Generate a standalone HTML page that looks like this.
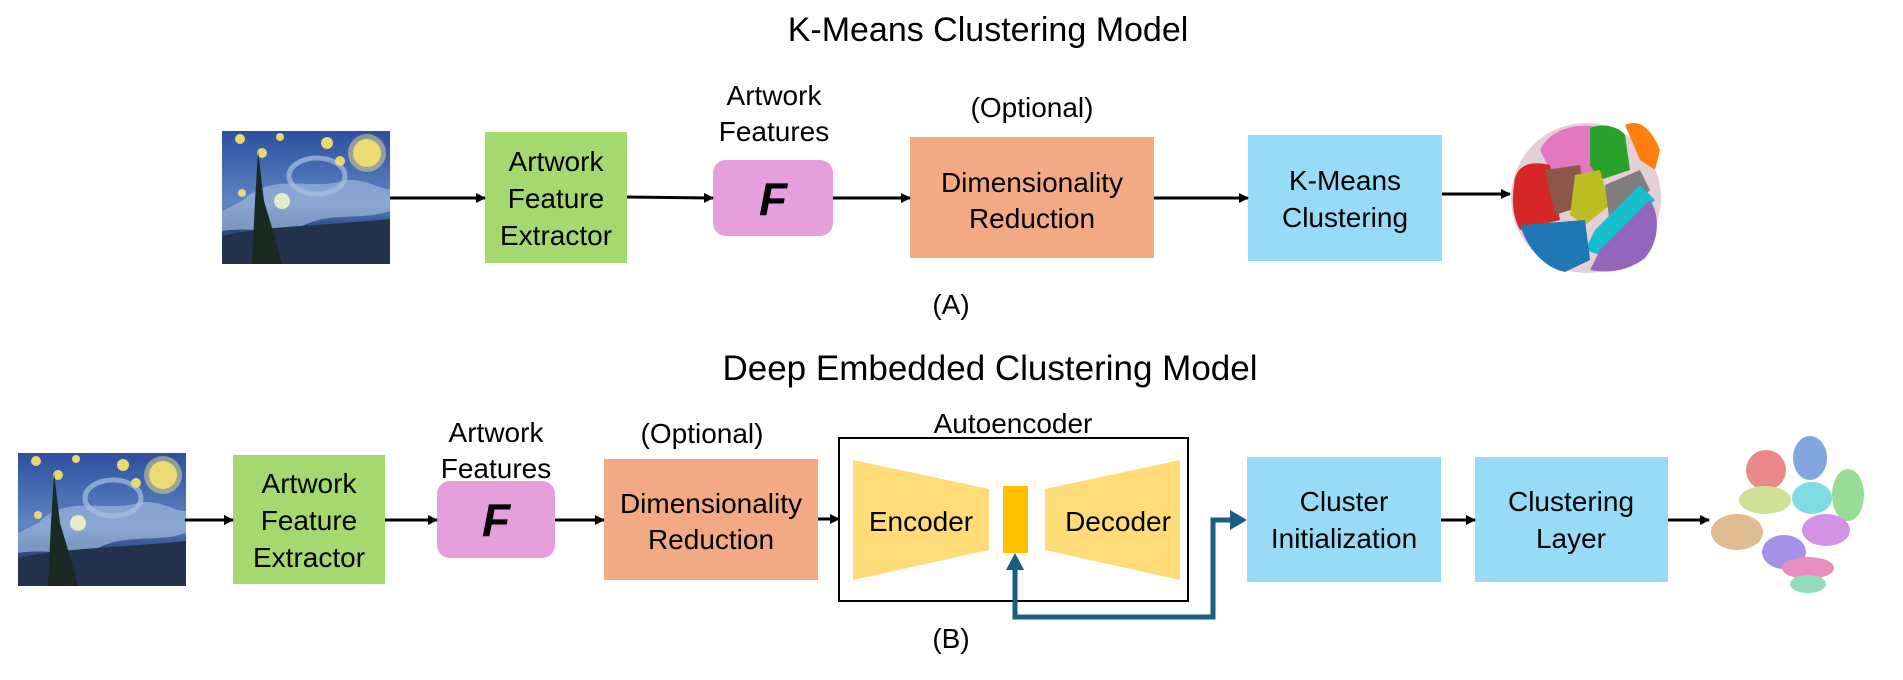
<!DOCTYPE html>
<html><head><meta charset="utf-8"><style>
html,body{margin:0;padding:0;background:#fff;}
svg{display:block;}
text{font-family:"Liberation Sans",sans-serif;fill:#000;}
</style></head><body>
<svg width="1903" height="680" viewBox="0 0 1903 680" xmlns="http://www.w3.org/2000/svg">
<defs>
<marker id="ah" markerWidth="10" markerHeight="10" refX="9" refY="5" orient="auto" markerUnits="userSpaceOnUse"><path d="M0,0 L10,5 L0,10 z" fill="#000"/></marker>
<linearGradient id="sky" x1="0" y1="0" x2="0" y2="1"><stop offset="0" stop-color="#2d4f9e"/><stop offset="0.55" stop-color="#5f86c4"/><stop offset="0.7" stop-color="#33518f"/><stop offset="1" stop-color="#1e2e4a"/></linearGradient>
<g id="night">
<rect x="0" y="0" width="168" height="133" fill="url(#sky)"/>
<path d="M20,70 C50,40 90,60 120,50 C140,45 160,60 168,58 L168,80 C140,90 110,80 80,95 C50,105 30,95 0,100 L0,80 Z" fill="#9bb6d8" opacity="0.7"/>
<ellipse cx="95" cy="45" rx="28" ry="18" fill="none" stroke="#a8c0e0" stroke-width="5" opacity="0.7"/>
<path d="M0,105 C40,95 100,95 168,88 L168,133 L0,133 Z" fill="#22324d"/>
<circle cx="145" cy="22" r="14" fill="#e8d25a"/><circle cx="145" cy="22" r="19" fill="#f0e28a" opacity="0.5"/>
<circle cx="18" cy="8" r="5" fill="#e8d870"/><circle cx="40" cy="22" r="5" fill="#e8d870"/><circle cx="58" cy="6" r="4" fill="#e8d870"/><circle cx="105" cy="12" r="6" fill="#e8d870"/><circle cx="60" cy="70" r="8" fill="#e8ecc8"/><circle cx="20" cy="62" r="4" fill="#e8d870"/><circle cx="118" cy="30" r="5" fill="#e8d870"/>
<path d="M30,133 L33,70 L36,20 L42,70 L48,90 L54,110 L60,133 Z" fill="#1a2a22"/>
</g>
</defs>

<!-- Titles -->
<text x="988" y="41" font-size="34" text-anchor="middle">K-Means Clustering Model</text>
<text x="951" y="314" font-size="28" text-anchor="middle">(A)</text>
<text x="990" y="380" font-size="35" text-anchor="middle">Deep Embedded Clustering Model</text>
<text x="951" y="648" font-size="28" text-anchor="middle">(B)</text>

<!-- Row A -->
<use href="#night" x="222" y="131"/>
<rect x="485" y="132" width="142" height="131" fill="#a5d96f"/>
<text font-size="28" text-anchor="middle"><tspan x="556" y="171">Artwork</tspan><tspan x="556" y="208">Feature</tspan><tspan x="556" y="245">Extractor</tspan></text>
<text font-size="28" text-anchor="middle"><tspan x="774" y="105">Artwork</tspan><tspan x="774" y="141">Features</tspan></text>
<rect x="713" y="160" width="120" height="76" rx="13" fill="#e59fdc"/>
<text x="773" y="215" font-size="46" font-weight="bold" font-style="italic" text-anchor="middle">F</text>
<text x="1032" y="117" font-size="28" text-anchor="middle">(Optional)</text>
<rect x="910" y="137" width="244" height="121" fill="#f2aa84"/>
<text font-size="28" text-anchor="middle"><tspan x="1032" y="192">Dimensionality</tspan><tspan x="1032" y="228">Reduction</tspan></text>
<rect x="1248" y="135" width="194" height="126" fill="#97dbf6"/>
<text font-size="28" text-anchor="middle"><tspan x="1345" y="190">K-Means</tspan><tspan x="1345" y="227">Clustering</tspan></text>
<g stroke="#000" stroke-width="3" marker-end="url(#ah)">
<line x1="390" y1="198" x2="485" y2="198"/>
<line x1="627" y1="197" x2="713" y2="198"/>
<line x1="833" y1="198" x2="910" y2="198"/>
<line x1="1154" y1="198" x2="1248" y2="198"/>
<line x1="1442" y1="194" x2="1510" y2="194"/>
</g>
<!-- Scatter A -->
<g>
<circle cx="1586" cy="198" r="75" fill="#c9a0b0" opacity="0.5"/>
<path d="M1540,150 C1550,128 1580,122 1600,128 L1598,175 L1555,180 Z" fill="#e377c2"/>
<path d="M1590,128 C1605,122 1620,128 1625,135 L1630,170 L1600,180 L1590,165 Z" fill="#2ca02c"/>
<path d="M1625,125 C1640,118 1652,130 1660,150 L1655,170 L1640,160 Z" fill="#ff7f0e"/>
<path d="M1514,185 C1515,165 1530,160 1550,165 L1560,220 L1520,230 C1512,215 1512,200 1514,185 Z" fill="#d62728"/>
<path d="M1545,170 L1580,165 L1585,205 L1555,215 Z" fill="#8c564b"/>
<path d="M1575,175 L1600,170 L1610,205 L1585,225 L1570,215 Z" fill="#bcbd22"/>
<path d="M1605,185 L1640,170 L1650,190 L1610,225 Z" fill="#7f7f7f"/>
<path d="M1640,185 L1655,200 L1600,255 L1585,250 L1595,230 Z" fill="#17becf"/>
<path d="M1520,225 L1585,220 L1590,260 L1565,272 C1545,268 1528,250 1520,225 Z" fill="#1f77b4"/>
<path d="M1600,250 L1650,200 C1660,215 1660,240 1645,258 C1630,270 1610,274 1590,270 Z" fill="#9467bd"/>
</g>

<!-- Row B -->
<use href="#night" x="18" y="453"/>
<rect x="233" y="455" width="152" height="129" fill="#a5d96f"/>
<text font-size="28" text-anchor="middle"><tspan x="309" y="493">Artwork</tspan><tspan x="309" y="530">Feature</tspan><tspan x="309" y="567">Extractor</tspan></text>
<text font-size="28" text-anchor="middle"><tspan x="496" y="442">Artwork</tspan><tspan x="496" y="478">Features</tspan></text>
<rect x="437" y="481" width="118" height="77" rx="13" fill="#e59fdc"/>
<text x="496" y="536" font-size="46" font-weight="bold" font-style="italic" text-anchor="middle">F</text>
<text x="702" y="443" font-size="28" text-anchor="middle">(Optional)</text>
<rect x="604" y="459" width="214" height="121" fill="#f2aa84"/>
<text font-size="28" text-anchor="middle"><tspan x="711" y="513">Dimensionality</tspan><tspan x="711" y="549">Reduction</tspan></text>
<text x="1013" y="433" font-size="28" text-anchor="middle">Autoencoder</text>
<rect x="839" y="438" width="349" height="163" fill="none" stroke="#000" stroke-width="2"/>
<polygon points="853,460 989,489 989,550 853,580" fill="#ffdc78"/>
<polygon points="1045,489 1180,460 1180,580 1045,550" fill="#ffdc78"/>
<rect x="1003" y="486" width="25" height="67" fill="#ffc000"/>
<text x="921" y="531" font-size="28" text-anchor="middle">Encoder</text>
<text x="1118" y="531" font-size="28" text-anchor="middle">Decoder</text>
<rect x="1247" y="457" width="194" height="125" fill="#97dbf6"/>
<text font-size="28" text-anchor="middle"><tspan x="1344" y="511">Cluster</tspan><tspan x="1344" y="548">Initialization</tspan></text>
<rect x="1475" y="457" width="193" height="125" fill="#97dbf6"/>
<text font-size="28" text-anchor="middle"><tspan x="1571" y="511">Clustering</tspan><tspan x="1571" y="548">Layer</tspan></text>
<g stroke="#000" stroke-width="3" marker-end="url(#ah)">
<line x1="185" y1="520" x2="233" y2="520"/>
<line x1="385" y1="520" x2="437" y2="520"/>
<line x1="555" y1="520" x2="604" y2="520"/>
<line x1="818" y1="519" x2="839" y2="519"/>
<line x1="1441" y1="520" x2="1475" y2="520"/>
<line x1="1668" y1="520" x2="1709" y2="520"/>
</g>
<!-- feedback -->
<polyline points="1015,568 1015,617 1213,617 1213,520 1232,520" fill="none" stroke="#1a5f80" stroke-width="5"/>
<polygon points="1006,570 1015,553 1024,570" fill="#1a5f80"/>
<polygon points="1230,510 1247,520 1230,530" fill="#1a5f80"/>
<!-- Scatter B -->
<g opacity="0.55">
<ellipse cx="1766" cy="470" rx="20" ry="20" fill="#d62728"/>
<ellipse cx="1810" cy="458" rx="17" ry="22" fill="#1f5fc4"/>
<ellipse cx="1765" cy="500" rx="26" ry="14" fill="#a9c93f"/>
<ellipse cx="1812" cy="498" rx="20" ry="16" fill="#17becf"/>
<ellipse cx="1848" cy="495" rx="16" ry="26" fill="#44c044"/>
<ellipse cx="1737" cy="532" rx="26" ry="18" fill="#c8873a"/>
<ellipse cx="1826" cy="530" rx="24" ry="16" fill="#b23ad0"/>
<ellipse cx="1784" cy="552" rx="22" ry="17" fill="#5a3ad6"/>
<ellipse cx="1808" cy="568" rx="26" ry="11" fill="#d6338a"/>
<ellipse cx="1808" cy="584" rx="18" ry="9" fill="#3ac08a"/>
</g>
</svg>
</body></html>
